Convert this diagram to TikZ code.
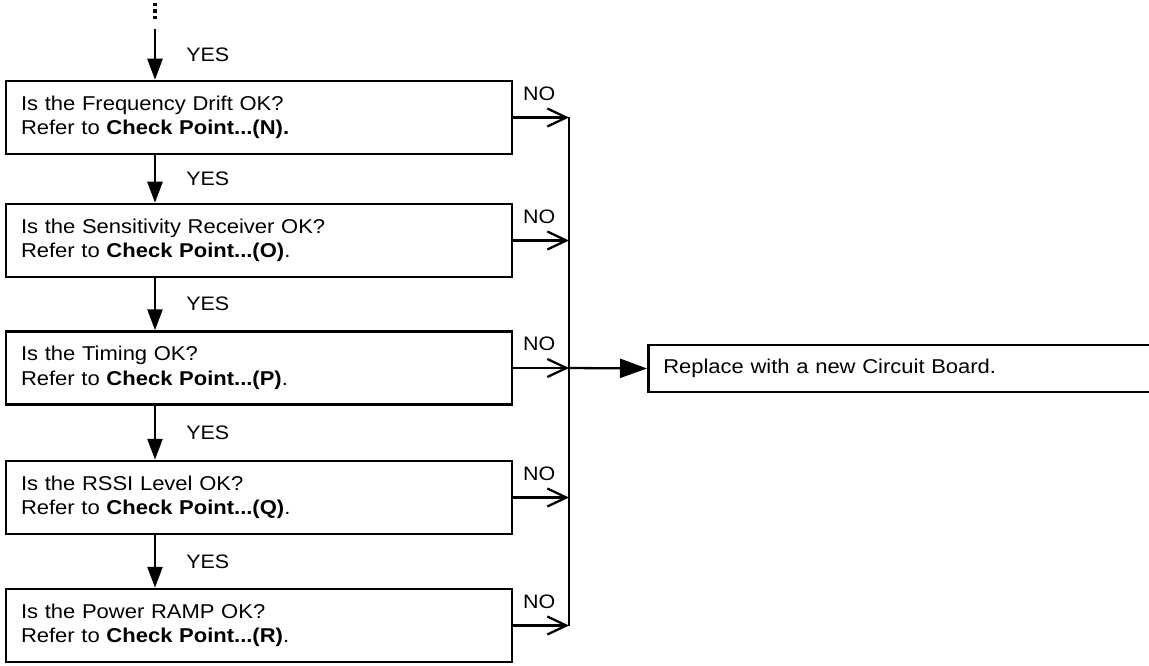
\documentclass[tikz,border=0pt]{standalone}
\usepackage{fontspec}
\setmainfont[FakeStretch=1.1]{Liberation Sans}
\usetikzlibrary{arrows.meta}
\begin{document}
\begin{tikzpicture}[x=1pt,y=-1pt,
  qbox/.style={draw, line width=2.5pt, minimum width=506pt, minimum height=73pt,
    text width=476pt, inner xsep=15pt, inner ysep=0pt, align=left,
    font=\fontsize{20}{24.5}\selectfont},
  repbox/.style={draw, line width=2.5pt, minimum width=530pt, minimum height=47pt,
    text width=500pt, inner xsep=15pt, inner ysep=0pt, align=left, anchor=west,
    font=\fontsize{20}{24.5}\selectfont},
  yesarrow/.style={line width=2.6pt, -{Triangle[length=21pt,width=15pt]}},
  noarrow/.style={line width=2.3pt, -{Straight Barb[length=19pt,width=18pt,line width=2.3pt]}},
  bigarrow/.style={line width=2.3pt, -{Triangle[length=27pt,width=19pt]}},
  yeslab/.style={anchor=west, inner sep=0pt, xshift=30pt, font=\fontsize{19.5}{20}\selectfont},
  nolab/.style={anchor=south, inner sep=0pt, yshift=16pt, xshift=-2pt, font=\fontsize{19.5}{20}\selectfont},
  dotline/.style={line width=3.5pt, dash pattern=on 3.5pt off 3pt},
  spineline/.style={line width=2.8pt}
]
\useasboundingbox (0,0) rectangle (1149,666);
\fill[white] (0,0) rectangle (1149,666);
\clip (0,0) rectangle (1149,666);

\node[qbox] (b1) at (259,117.5) {Is the Frequency Drift OK?\\Refer to \textbf{Check Point...(N).}};
\node[qbox] (b2) at (259,240.5) {Is the Sensitivity Receiver OK?\\Refer to \textbf{Check Point...(O)}.};
\node[qbox] (b3) at (259,368) {Is the Timing OK?\\Refer to \textbf{Check Point...(P)}.};
\node[qbox] (b4) at (259,497.5) {Is the RSSI Level OK?\\Refer to \textbf{Check Point...(Q)}.};
\node[qbox] (b5) at (259,625.5) {Is the Power RAMP OK?\\Refer to \textbf{Check Point...(R)}.};
\node[repbox] (rep) at (647,368.5) {Replace with a new Circuit Board.};

\coordinate (dtop) at (155,3);
\coordinate (dbot) at (155,22);
\coordinate (start) at (155,29);
\coordinate (spine) at (569,0);

\draw[dotline] (dtop) -- (dbot);
\draw[yesarrow] (start) -- node[yeslab] {YES} ([xshift=-104pt]b1.north);
\draw[yesarrow] ([xshift=-104pt]b1.south) -- node[yeslab] {YES} ([xshift=-104pt]b2.north);
\draw[yesarrow] ([xshift=-104pt]b2.south) -- node[yeslab] {YES} ([xshift=-104pt]b3.north);
\draw[yesarrow] ([xshift=-104pt]b3.south) -- node[yeslab] {YES} ([xshift=-104pt]b4.north);
\draw[yesarrow] ([xshift=-104pt]b4.south) -- node[yeslab] {YES} ([xshift=-104pt]b5.north);

\foreach \b in {b1,b2,b3,b4,b5}{
  \draw[noarrow] (\b.east) -- node[nolab] {NO} (\b.east -| spine);
}
\draw[spineline] (b1.east -| spine) -- (b5.east -| spine);
\draw[bigarrow] (b3.east -| spine) -- (rep.west);
\end{tikzpicture}
\end{document}
